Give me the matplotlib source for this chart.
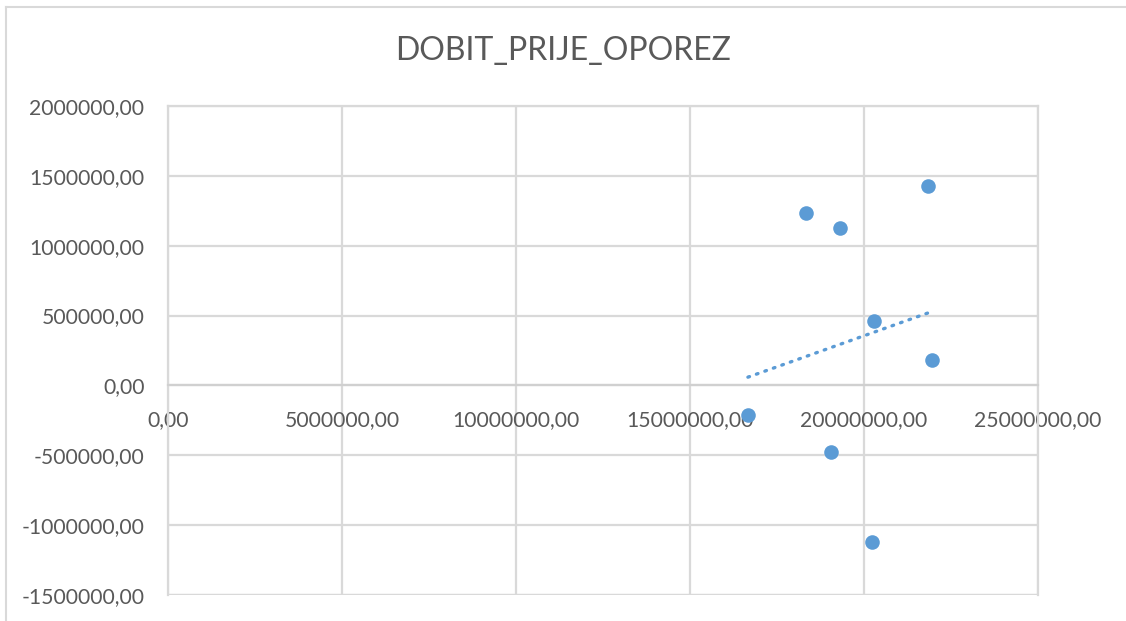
import matplotlib
matplotlib.use("Agg")
import matplotlib.pyplot as plt
from matplotlib.lines import Line2D
from matplotlib.ticker import FuncFormatter, MultipleLocator
import numpy as np

# Data (x: revenue-like variable, y: DOBIT_PRIJE_OPOREZ)
x_vals = [18340000, 19320000, 21850000, 20290000, 21950000, 16670000, 19060000, 20240000]
y_vals = [1235000, 1128000, 1430000, 463000, 182000, -210000, -474000, -1118000]
title = "DOBIT_PRIJE_OPOREZ"

plt.rcParams['font.family'] = ['Lato', 'DejaVu Sans']

W, H = 1126, 621
fig = plt.figure(figsize=(W / 100, H / 100), dpi=100)

grey_txt = "#595959"
grid_c = "#d9d9d9"
blue = "#5b9bd5"

# Plot area in pixels
L, R, T, B = 168, 1037.7, 106, 595
ax = fig.add_axes([L / W, 1 - B / H, (R - L) / W, (B - T) / H])

ax.set_xlim(0, 25000000)
ax.set_ylim(-1500000, 2000000)
ax.xaxis.set_major_locator(MultipleLocator(5000000))
ax.yaxis.set_major_locator(MultipleLocator(500000))

fmt = FuncFormatter(lambda v, p: f"{v:.2f}".replace(".", ","))
ax.xaxis.set_major_formatter(fmt)
ax.yaxis.set_major_formatter(fmt)

ax.grid(True, color=grid_c, linewidth=1.6)
ax.set_axisbelow(True)
for s in ["top", "right", "left"]:
    ax.spines[s].set_visible(True)
    ax.spines[s].set_color(grid_c)
    ax.spines[s].set_linewidth(1.6)
ax.spines["bottom"].set_position(("data", 0))
ax.spines["bottom"].set_color("#d0d0d0")
ax.spines["bottom"].set_linewidth(1.6)
# bottom frame line of plot area
ax.axhline(-1500000, color=grid_c, linewidth=1.6, zorder=0.5)

ax.tick_params(axis="both", length=0, labelsize=15.2, labelcolor=grey_txt)
ax.tick_params(axis="y", pad=17)
ax.tick_params(axis="x", pad=18)

# Scatter
ax.scatter(x_vals, y_vals, s=110, color=blue, zorder=3, linewidths=0)

# Linear trendline
coef = np.polyfit(x_vals, y_vals, 1)
xt = np.array([min(x_vals), max(x_vals)])
ax.plot(xt, np.polyval(coef, xt), color=blue, linewidth=2.4,
        linestyle=(0, (0.5, 2.2)), dash_capstyle="round", zorder=2)

fig.text(0.5, 1 - 51 / H, title, ha="center", va="center",
         fontsize=23, color=grey_txt)

# Chart border (partially visible)
fig.add_artist(Line2D([6 / W, 6 / W], [0, 1 - 7 / H], color=grid_c, linewidth=1.5))
fig.add_artist(Line2D([6 / W, 1], [1 - 7 / H, 1 - 7 / H], color=grid_c, linewidth=1.5))

fig.savefig("out.png", dpi=100)
